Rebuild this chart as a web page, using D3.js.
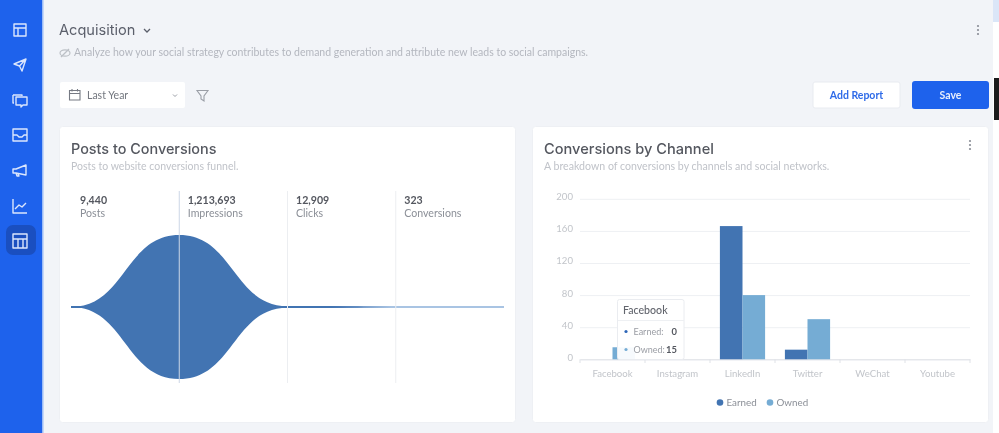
<!DOCTYPE html>
<html><head><meta charset="utf-8">
<script src="https://cdn.jsdelivr.net/npm/d3@7"></script>
<style>
html,body{margin:0;padding:0;background:#f2f4f8;overflow:hidden}
svg{display:block;filter:blur(0.55px)}
text{font-family:Lato,"Open Sans",sans-serif}
.ttl{font-family:Inter,"Open Sans",sans-serif;font-weight:500}
</style></head><body>
<svg id="c" width="999" height="433"></svg>
<script>
// Funnel data
const stageNames = ["Posts","Impressions","Clicks","Conversions"];
const stageValues = [9440,1213693,12909,323];
const stageLabels = ["9,440","1,213,693","12,909","323"];
// Bar data
const channels = ["Facebook","Instagram","LinkedIn","Twitter","WeChat","Youtube"];
const earned = [0,0,166,12,0,0];
const owned = [15,0,80,50,0,0];
const yTicks = [0,40,80,120,160,200];
const seriesNames = ["Earned","Owned"];
const seriesColors = ["#4274b2","#75acd4"];

const svg = d3.select("#c");
const rect=(x,y,w,h,f,r,s)=>svg.append("rect").attr("x",x).attr("y",y).attr("width",w).attr("height",h).attr("fill",f).attr("rx",r||0).attr("stroke",s||"none");
const text=(x,y,t,size,fill,o={})=>svg.append("text").attr("x",x).attr("y",y).text(t).attr("font-size",size).attr("fill",fill).attr("text-anchor",o.anchor||"start").attr("font-weight",o.weight||400).attr("class",o.cls||null);

// page chrome
rect(993,0,6,433,"#ffffff");
rect(993,0,6,22,"#dbe6f8");
rect(994,78,5,42,"#1b1b1b");
rect(0,0,42,433,"#1e62ec");
rect(42,0,1.5,433,"#9dbcf5");
rect(6,225,30,30,"#1a4fc0",7);

// sidebar icons
const ic = svg.append("g").attr("fill","none").attr("stroke","#dbe6fd").attr("stroke-width",1.4).attr("stroke-linejoin","round");
const icons = [
 [30,"M-6,-6h12v12h-12zM-6,-2h12M-2,-2v8"],
 [65,"M-6,-1L6,-6L2,6L-0.5,1zM-0.5,1L6,-6"],
 [100,"M-7,-5h9v1M-7,-5v8h1M-4,-3h11v8h-4l-2,2v-2h-5z"],
 [135,"M-7,-6h14v12h-14zM-7,0h4l2,2h3l2,-2h3"],
 [171,"M-7,-2h3L6,-6v10L-4,2h-3zM-4,2l1,3h2l-1,-2"],
 [206,"M-7,-7v14h14M-5,3l4,-4l3,2l4,-4"],
 [241,"M-7,-7h14v14h-14zM-7,-2h14M-2,-2v9M3,-2v9"]
];
icons.forEach(([y,d])=>ic.append("path").attr("transform",`translate(20,${y})`).attr("d",d));

// header
text(59,35,"Acquisition",14.6,"#5b5f6b",{cls:"ttl"}).attr("font-weight",400).style("font-weight",400);
svg.append("path").attr("d","M144,29l3,3l3,-3").attr("fill","none").attr("stroke","#5b5f6b").attr("stroke-width",1.3);
svg.append("ellipse").attr("cx",65).attr("cy",53).attr("rx",5).attr("ry",3.2).attr("fill","none").attr("stroke","#bcc0c6").attr("stroke-width",1.2);
svg.append("path").attr("d","M61,57L69,49").attr("stroke","#bcc0c6").attr("stroke-width",1.2);
text(74,56,"Analyze how your social strategy contributes to demand generation and attribute new leads to social campaigns.",10.5,"#b4b7bf");
[26,30,34].forEach(y=>svg.append("circle").attr("cx",978).attr("cy",y).attr("r",1.1).attr("fill","#8a8e96"));

// controls
rect(60,82,125,26,"#ffffff",2);
svg.append("path").attr("d","M69.5,90.5h10.5v9.5h-10.5zM69.5,93.5h10.5M72,89v2.5M77.5,89v2.5").attr("fill","none").attr("stroke","#767a83").attr("stroke-width",1.1);
text(87,99,"Last Year",10.5,"#73777f");
svg.append("path").attr("d","M173,94.5l2,2l2,-2").attr("fill","none").attr("stroke","#9a9ea6").attr("stroke-width",1);
svg.append("path").attr("d","M197,90.5h11l-4,5.5v5l-3,-2v-3z").attr("fill","none").attr("stroke","#9a9ea6").attr("stroke-width",1.1);
rect(813,82,87,26,"#ffffff",2,"#e8ebf0");
text(856.5,99,"Add Report",10.5,"#2f6be8",{anchor:"middle",weight:700});
rect(912,81,77,28,"#1e62ec",3);
text(950.5,99,"Save",10.5,"#e8effd",{anchor:"middle",weight:700});

// cards
rect(59.5,126.5,456,296,"#ffffff",3,"#eef0f4");
rect(532.5,126.5,456,296,"#ffffff",3,"#eef0f4");
text(71,154,"Posts to Conversions",14.4,"#54575f",{cls:"ttl"});
text(71,170,"Posts to website conversions funnel.",10.5,"#c0c3c9");
text(544,154,"Conversions by Channel",14.6,"#54575f",{cls:"ttl"});
text(544,170,"A breakdown of conversions by channels and social networks.",10.6,"#c0c3c9");
[141,145,149].forEach(y=>svg.append("circle").attr("cx",970).attr("cy",y).attr("r",1.1).attr("fill","#8a8e96"));

// funnel
const stageX = d3.scaleLinear().domain([0,stageValues.length]).range([71,504]);
const funnelH = d3.scaleLinear().domain([0,stageValues[1]]).range([0,72]);
const midY = 307;
const funnelPts = stageValues.map((v,i)=>({i,v})).concat([{i:stageValues.length,v:stageValues[3]}]);
funnelPts[0].v = 0;
const grad = svg.append("defs").append("linearGradient").attr("id","fade").attr("gradientUnits","userSpaceOnUse")
  .attr("x1",stageX(0)).attr("x2",stageX(4)).attr("y1",0).attr("y2",0);
[[0,"#4274b2"],[.6,"#4274b2"],[.74,"#a9c4e3"],[1,"#a9c4e3"]].forEach(([o,c])=>grad.append("stop").attr("offset",o).attr("stop-color",c));

svg.append("line").attr("x1",stageX(0)).attr("x2",stageX(4)).attr("y1",midY).attr("y2",midY).attr("stroke","url(#fade)").attr("stroke-width",1.9);
svg.append("path").datum(funnelPts).attr("fill","#4274b2")
  .attr("d",d3.area().x(d=>stageX(d.i)).y0(d=>midY-funnelH(d.v)).y1(d=>midY+funnelH(d.v)).curve(d3.curveBumpX));
stageNames.forEach((n,i)=>{
  const x=stageX(i);
  if(i>0) svg.append("line").attr("x1",x).attr("x2",x).attr("y1",191).attr("y2",383)
    .attr("stroke",i===1?"#ccd6e6":"#eceef1").attr("stroke-width",1);
  const tx = i===0?80:x+8.5;
  text(tx,204,stageLabels[i],10.6,"#54575f",{weight:700});
  text(tx,217,n,10.6,"#8b8f97");
});

// bar chart
const x0 = d3.scaleBand().domain(channels).range([580,970]);
const barW = 22.6;
const y = d3.scaleLinear().domain([0,200]).range([359.3,198.8]);
const gy = svg.append("g").attr("transform","translate(580,0)").call(d3.axisLeft(y).tickValues(yTicks).tickSize(-390).tickPadding(7));
gy.select(".domain").remove();
gy.selectAll(".tick line").attr("stroke","#eef0f3");
gy.selectAll(".tick text").attr("font-size",9.6).attr("fill","#c2c5ca").attr("font-family","Lato,sans-serif").attr("dy","0.1em");
const gx = svg.append("g").attr("transform","translate(0,359.3)").call(d3.axisBottom(x0).tickSize(0).tickPadding(11));
gx.select(".domain").attr("stroke","#dfe2e7");
gx.selectAll(".tick line").remove();
gx.selectAll(".tick text").attr("font-size",9.6).attr("fill","#c2c5ca").attr("font-family","Lato,sans-serif");
channels.concat(["end"]).forEach((c,i)=>{
  const tx=x0.range()[0]+i*x0.bandwidth();
  svg.append("line").attr("x1",tx).attr("x2",tx).attr("y1",359.3).attr("y2",363).attr("stroke","#dfe2e7");
});
const barData = channels.flatMap((c,i)=>[{c,s:0,v:earned[i]},{c,s:1,v:owned[i]}]);
svg.append("g").selectAll("rect").data(barData.filter(d=>d.v>0)).join("rect")
  .attr("x",d=>x0(d.c)+x0.bandwidth()/2+(d.s-1)*barW)
  .attr("y",d=>y(d.v)).attr("width",barW).attr("height",d=>y(0)-y(d.v))
  .attr("fill",d=>seriesColors[d.s]);

// legend
[[720,0],[770,1]].forEach(([lx,i])=>{
  svg.append("circle").attr("cx",lx).attr("cy",402.5).attr("r",3.3).attr("fill",seriesColors[i]);
  text(lx+6.5,406,seriesNames[i],9.8,"#8b8f97");
});

// tooltip
rect(617.5,299.5,66.5,60,"#ffffff",2,"#eaecf0").attr("fill-opacity",0.94);
svg.append("line").attr("x1",618).attr("x2",684).attr("y1",320.5).attr("y2",320.5).attr("stroke","#eef0f3");
text(623,314,channels[0],10.6,"#62656d",{weight:500});
seriesNames.forEach((n,i)=>{
  const ty=[334,352][i];
  svg.append("circle").attr("cx",626).attr("cy",ty-2.5).attr("r",1.6).attr("fill",i?seriesColors[1]:"#2d66b8");
  text(633.5,ty+1,n+":",9,"#9a9da4");
  text(677,ty+1,[earned[0],owned[0]][i],9.4,"#54575f",{anchor:"end",weight:700});
});
</script></body></html>
